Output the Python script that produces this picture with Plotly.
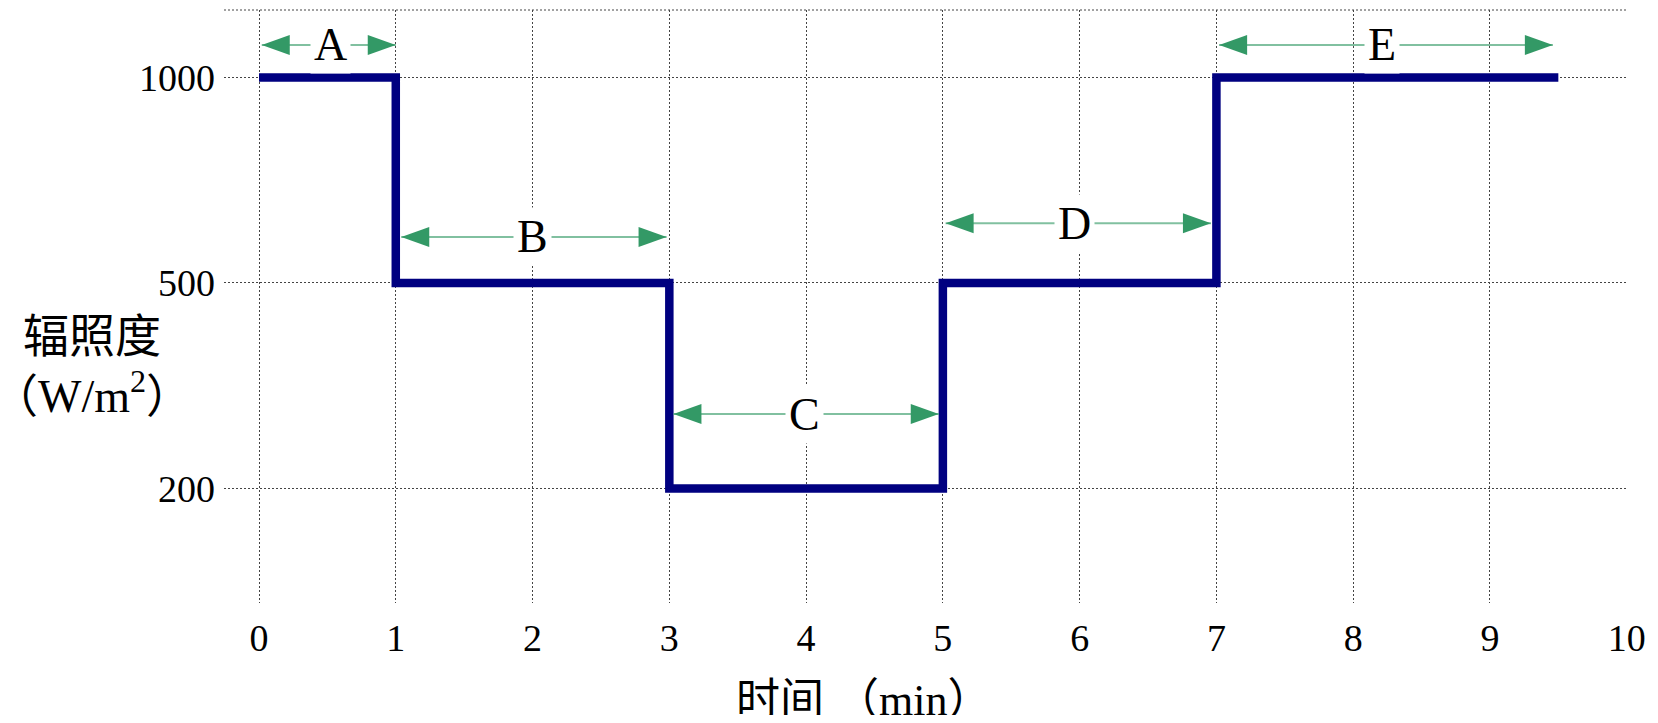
import plotly.graph_objects as go

# ---- data ----
time_points = [0, 1, 3, 5, 7, 9.5]            # min, start of each step (last = end)
irradiance = [1000, 500, 200, 500, 1000, 1000]  # W/m2
y_levels = [200, 500, 1000]                     # y tick categories
x_ticks = [0, 1, 2, 3, 4, 5, 6, 7, 8, 9, 10]

seg_labels = ["A", "B", "C", "D", "E"]
seg_start = [0.02, 1.04, 3.03, 5.02, 7.02]
seg_end = [1.0, 2.98, 4.97, 6.96, 9.46]
seg_label_x = [0.52, 2.0, 3.99, 5.96, 8.21]
seg_arrow_y = [2.158, 1.224, 0.362, 1.29, 2.158]  # positions on the category axis

SERIF = "Liberation Serif, Times New Roman, Noto Sans CJK SC, serif"
GREEN = "#339966"
SHAFT = "rgba(51,153,102,0.62)"
GRID = "#444444"

fig = go.Figure()
fig.add_trace(go.Scatter(
    x=time_points, y=irradiance, mode="lines", line_shape="hv",
    line=dict(color="#000080", width=8.5), showlegend=False, hoverinfo="skip",
))

shapes = []
annotations = []
# top dotted border
shapes.append(dict(type="line", xref="paper", yref="paper", x0=0, x1=1, y0=1, y1=1,
                   line=dict(color=GRID, width=1, dash="2px,2px")))
for lab, x0, x1, lx, yy in zip(seg_labels, seg_start, seg_end, seg_label_x, seg_arrow_y):
    shapes.append(dict(type="line", xref="x", yref="y", x0=x0, x1=x1, y0=yy, y1=yy,
                       line=dict(color=SHAFT, width=2), layer="above"))
    # arrow heads (pixel-sized triangles anchored at tips)
    shapes.append(dict(type="path", xref="x", yref="y", xsizemode="pixel", ysizemode="pixel",
                       xanchor=x0, yanchor=yy, path="M0,0 L28,10 L28,-10 Z",
                       fillcolor=GREEN, line=dict(width=0), layer="above"))
    shapes.append(dict(type="path", xref="x", yref="y", xsizemode="pixel", ysizemode="pixel",
                       xanchor=x1, yanchor=yy, path="M0,0 L-28,10 L-28,-10 Z",
                       fillcolor=GREEN, line=dict(width=0), layer="above"))
    annotations.append(dict(x=lx, y=yy, xref="x", yref="y", text=lab, showarrow=False,
                            font=dict(family=SERIF, size=46, color="black"),
                            bgcolor="white", borderpad=3, xanchor="center", yanchor="middle"))

annotations.append(dict(xref="paper", yref="paper", x=-0.094, y=0.398,
                        text="辐照度<br>（W/m<sup>2</sup>）", showarrow=False,
                        font=dict(family=SERIF, size=46, color="black"),
                        xanchor="center", yanchor="middle", align="center"))
annotations.append(dict(xref="paper", yref="paper", x=0.4555, y=-0.1636,
                        text="时间 （min）", showarrow=False,
                        font=dict(family=SERIF, size=44, color="black"),
                        xanchor="center", yanchor="middle"))

fig.update_layout(
    width=1642, height=707,
    margin=dict(l=216, r=23, t=2, b=112),
    paper_bgcolor="white", plot_bgcolor="white",
    shapes=shapes, annotations=annotations,
    xaxis=dict(range=[-0.256, 10.002], tickvals=x_ticks, showgrid=True,
               gridcolor=GRID, gridwidth=1, griddash="2px,2px", zeroline=False,
               showline=False, ticks="", ticklabelstandoff=9,
               tickfont=dict(family=SERIF, size=38, color="black")),
    yaxis=dict(type="category", categoryorder="array", categoryarray=y_levels,
               range=[-0.557, 2.328], showgrid=True, gridcolor=GRID, gridwidth=1,
               griddash="2px,2px", zeroline=False, showline=False, ticks="",
               ticklabelstandoff=8,
               tickfont=dict(family=SERIF, size=38, color="black")),
)

fig.write_html("out.html")
